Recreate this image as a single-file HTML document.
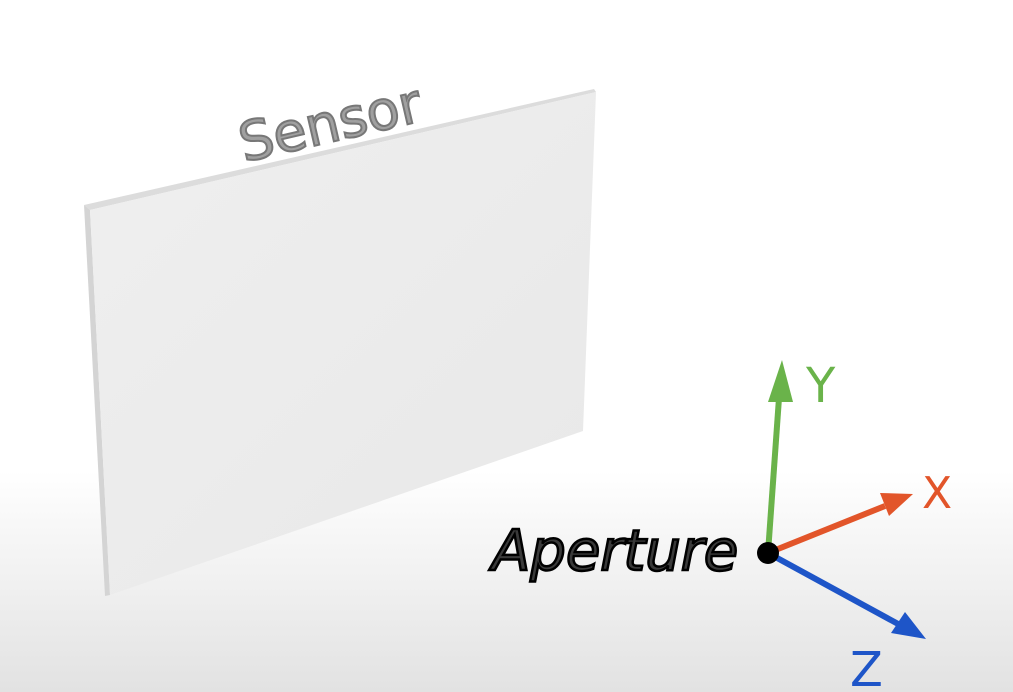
<!DOCTYPE html>
<html><head><meta charset="utf-8"><style>
html,body{margin:0;padding:0;width:1013px;height:692px;overflow:hidden;background:#fff}
svg{display:block}
text{font-family:"DejaVu Sans","Liberation Sans",sans-serif}
</style></head><body>
<svg width="1013" height="692" viewBox="0 0 1013 692">
<defs>
<linearGradient id="bg" x1="0" y1="0" x2="0" y2="1">
<stop offset="0" stop-color="#ffffff"/><stop offset="0.68" stop-color="#ffffff"/><stop offset="1" stop-color="#e2e2e2"/></linearGradient>
<linearGradient id="face" x1="0" y1="0" x2="1" y2="1">
<stop offset="0" stop-color="#efefef"/><stop offset="1" stop-color="#e8e8e8"/></linearGradient>
</defs>
<rect width="1013" height="692" fill="url(#bg)"/>
<g>
<polygon points="84,205 594,89 596,92 90,210" fill="#dcdcdc"/>
<polygon points="84,205 90,210 110,595 105,596" fill="#d4d4d4"/>
<polygon points="90,210 596,92 583,431 110,595" fill="url(#face)"/>
</g>
<text x="0" y="0" font-size="54" fill="#a0a0a0" stroke="#777" stroke-width="2" transform="translate(244,162) rotate(-13)">Sensor</text>
<text x="492" y="570" font-size="56" font-style="italic" fill="#3a3a3a" stroke="#000" stroke-width="2.5">Aperture</text>
<g>
<line x1="768" y1="553" x2="779" y2="398" stroke="#6ab34a" stroke-width="6"/>
<polygon points="782,360 768,402 793,402" fill="#6ab34a"/>
</g>
<g>
<line x1="768" y1="553" x2="885" y2="506" stroke="#e2552a" stroke-width="6"/>
<polygon points="913,494 880,493 889,516" fill="#e2552a"/>
</g>
<g>
<line x1="768" y1="553" x2="900" y2="625" stroke="#1e55c8" stroke-width="6"/>
<polygon points="926,639 891,633 905,612" fill="#1e55c8"/>
</g>
<circle cx="768" cy="553" r="11" fill="#000"/>
<text x="806" y="402" font-size="48" fill="#6ab34a">Y</text>
<text x="922" y="508" font-size="44" fill="#e2552a">X</text>
<text x="850" y="686" font-size="48" fill="#1e55c8">Z</text>
</svg>
</body></html>
